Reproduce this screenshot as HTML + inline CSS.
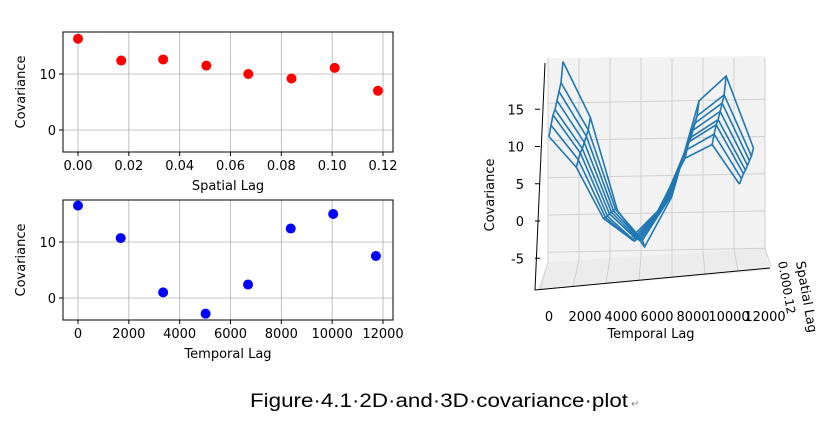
<!DOCTYPE html>
<html><head><meta charset="utf-8"><style>
body{margin:0;background:#fff;width:832px;height:425px;overflow:hidden;font-family:"Liberation Sans","DejaVu Sans",sans-serif}
svg text{font-family:"DejaVu Sans","Liberation Sans",sans-serif;fill:#000}
</style></head><body>
<svg id="svg" width="832" height="425">
<g id="top"></g>
<g id="bot"></g>
<g id="three"></g>
<text x="250" y="407" textLength="378" lengthAdjust="spacingAndGlyphs" style="font-family:'Liberation Sans',sans-serif;font-size:19px">Figure·4.1·2D·and·3D·covariance·plot</text>
<text x="631" y="407" style="font-size:10px;fill:#888">↵</text>
</svg>
<script>
const spatialLags=[0,0.017,0.0335,0.0505,0.067,0.084,0.101,0.118];
const spatialCov=[16.3,12.4,12.6,11.5,10,9.2,11.1,7];
const temporalLags=[0,1680,3350,5020,6690,8370,10040,11720];
const temporalCov=[16.5,10.7,1,-2.8,2.4,12.4,15,7.5];
const spatialTicks=["0.00","0.02","0.04","0.06","0.08","0.10","0.12"];
const temporalTicks=["0","2000","4000","6000","8000","10000","12000"];
const yTicks=[0,10];
const rowScale=[1,0.85,0.8,0.75,0.7,0.68,0.62,0.55];
const zTicks=[-5,0,5,10,15];
const NS="http://www.w3.org/2000/svg";
function mk(p,t,a){const e=document.createElementNS(NS,t);for(const k in a)e.setAttribute(k,a[k]);p.appendChild(e);return e;}
function panel(g,y0,xs,ys,ticks,tickVals,xmax,color,xlabel){
  const x0=63,x1=393,y1=y0+120;
  const sx=v=>78+v/xmax*305, sy=v=>(y0+42)+(10-v)*5.6;
  for(let i=0;i<tickVals.length;i++){const x=sx(tickVals[i]);
    const l=mk(g,'line',{x1:x,x2:x,y1:y0,y2:y1,stroke:'#b0b0b0','stroke-width':0.8});
    
    mk(g,'line',{x1:x,x2:x,y1:y1,y2:y1+4,stroke:'#000'});
    const t=mk(g,'text',{x:x,y:y1+18,'text-anchor':'middle','font-size':13});t.textContent=ticks[i];
    }
  for(const v of yTicks){const y=sy(v);
    mk(g,'line',{x1:x0,x2:x1,y1:y,y2:y,stroke:'#b0b0b0','stroke-width':0.8});
    mk(g,'line',{x1:x0-4,x2:x0,y1:y,y2:y,stroke:'#000'});
    const t=mk(g,'text',{x:x0-7,y:y+5,'text-anchor':'end','font-size':13});t.textContent=v;
    }
  const r=mk(g,'rect',{x:x0,y:y0,width:x1-x0,height:120,fill:'none',stroke:'#000','stroke-width':1});
  
  for(let i=0;i<xs.length;i++){const c=mk(g,'circle',{cx:sx(xs[i]),cy:sy(ys[i]),r:5,fill:color});
    }
  const yl=mk(g,'text',{x:0,y:0,'font-size':13,'text-anchor':'middle',transform:`translate(25,${y0+60}) rotate(-90)`});yl.textContent='Covariance';
  
  const xl=mk(g,'text',{x:228,y:y1+38,'font-size':13,'text-anchor':'middle'});xl.textContent=xlabel;
  
}
panel(document.getElementById('top'),32,spatialLags,spatialCov,spatialTicks,[0,0.02,0.04,0.06,0.08,0.10,0.12],0.12,'#ff0000','Spatial Lag');
panel(document.getElementById('bot'),200,temporalLags,temporalCov,temporalTicks,[0,2000,4000,6000,8000,10000,12000],12000,'#0000ff','Temporal Lag');
// 3D
const g3=document.getElementById('three');
mk(g3,'polygon',{points:'548,58 765,56 765,248 548,262',fill:'#f2f2f2'});
mk(g3,'polygon',{points:'548,262 765,248 770,270 537,290',fill:'#ececec'});
for(let i=0;i<=7;i++){const x=548+i*31;mk(g3,'line',{x1:x,x2:x,y1:58,y2:262-i*2,stroke:'#d0d0d0'});
  mk(g3,'line',{x1:x,x2:540+i*33,y1:262-i*2,y2:290-i*3.3,stroke:'#d0d0d0'});}
const tz=z=>221-z*7.45;
for(const z of zTicks){const y=tz(z);mk(g3,'line',{x1:548,x2:765,y1:y-6,y2:y-10,stroke:'#d0d0d0'});
  mk(g3,'line',{x1:535,x2:540,y1:y,y2:y,stroke:'#000'});
  const t=mk(g3,'text',{x:524,y:y+5,'text-anchor':'end','font-size':13});t.textContent=z;
  }
mk(g3,'line',{x1:535,x2:770,y1:290,y2:268,stroke:'#000'});
mk(g3,'line',{x1:535,x2:545,y1:290,y2:63,stroke:'#000'});
const tx=(t,s)=>563+t/12000*195-s*2;
const ty=(z,s)=>220-z*9.6+s*3;
const rows=rowScale.map(k=>temporalCov.map(v=>v*k+(1-k)*4));
for(let s=0;s<rows.length;s++){
  const p=mk(g3,'polyline',{points:temporalLags.map((t,j)=>tx(t,s)+','+ty(rows[s][j],s)).join(' '),fill:'none',stroke:'#1f77b4','stroke-width':1.6});
  }
for(let j=0;j<temporalLags.length;j++){
  const p=mk(g3,'polyline',{points:rows.map((r,s)=>tx(temporalLags[j],s)+','+ty(r[j],s)).join(' '),fill:'none',stroke:'#1f77b4','stroke-width':1.6});
  }
temporalTicks.forEach((l,i)=>{const t=mk(g3,'text',{x:549+i*36,y:321,'text-anchor':'middle','font-size':13});t.textContent=l;
  });
const t1=mk(g3,'text',{x:651,y:338,'text-anchor':'middle','font-size':13});t1.textContent='Temporal Lag';

const t2=mk(g3,'text',{x:0,y:0,'font-size':13,'text-anchor':'middle',transform:'translate(494,195) rotate(-90)'});t2.textContent='Covariance';

const t3=mk(g3,'text',{x:0,y:0,'font-size':13,transform:'translate(796,262) rotate(80)'});t3.textContent='Spatial Lag';

const t4=mk(g3,'text',{x:0,y:0,'font-size':12,transform:'translate(778,262) rotate(80)'});t4.textContent='0.000.12';

</script>
</body></html>
